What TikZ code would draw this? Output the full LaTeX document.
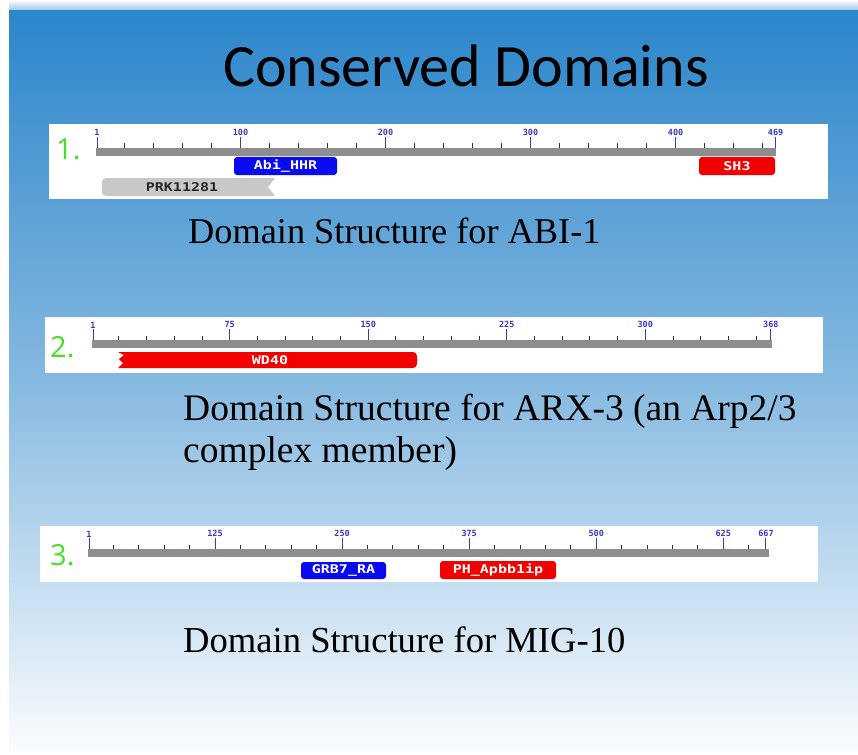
\documentclass[tikz,border=0pt]{standalone}
\usepackage{fontspec}
\setmainfont{Liberation Serif}
\newfontfamily\titlefont{Carlito}
\newfontfamily\numfont{Open Sans}
\newfontfamily\domfont[FakeStretch=1.25]{DejaVu Sans Mono Bold}
\newfontfamily\tickfont{DejaVu Sans Mono Bold}
\definecolor{slidetop}{HTML}{2B86CB}
\definecolor{slidemid}{HTML}{86B9E0}
\definecolor{slidebot}{HTML}{FAFCFE}
\definecolor{rulergray}{HTML}{8E8E8E}
\definecolor{tickblue}{HTML}{3838C8}
\definecolor{minorink}{HTML}{2C2C58}
\definecolor{dblue}{HTML}{0A0AEE}
\definecolor{dred}{HTML}{F20000}
\definecolor{dgray}{HTML}{C8C8C8}
\definecolor{numgreen}{HTML}{45E02A}
\tikzset{
  panel/.style={fill=white, draw=none},
  bar/.style={fill=rulergray, draw=none},
  minortick/.style={draw=minorink, line width=0.9pt},
  majortick/.style={draw=tickblue, line width=1pt},
  ticklabel/.style={font=\tickfont\fontsize{8.5}{9}\selectfont, text=tickblue, inner sep=0.5pt},
  dombox/.style={rounded corners=3pt, draw=none, inner sep=0pt},
  domtext/.style={font=\domfont\fontsize{12}{12}\selectfont, inner sep=0pt},
  caption/.style={text=black, inner sep=0pt, anchor=base west},
  rownum/.style={font=\numfont\fontsize{29}{29}\selectfont, text=numgreen, inner sep=0pt, anchor=base west},
}
\begin{document}
\begin{tikzpicture}[x=1pt, y=-1pt]
  \useasboundingbox (0,0) rectangle (858,754);
  % page and slide background
  \fill[white] (0,0) rectangle (858,754);
  \shade[top color=slidetop, bottom color=slidebot, middle color=slidemid]
    (9,10) rectangle (858,751);
  \shade[top color=white, bottom color=slidetop!45] (9,0) rectangle (858,10);

  % title
  \node[font=\titlefont\fontsize{60}{60}\selectfont, inner sep=0pt] (title) at (466,66) {Conserved Domains};

  % ---------------- ABI-1 ----------------
  \fill[panel] (49,124) rectangle (828,199);
  \node[rownum] (n1) at (56,160) {1.};
  \fill[bar] (96,148) rectangle (776,156);
  \foreach \v in {20,40,...,460}
    \draw[minortick] ({97+(\v-1)*1.45},143.5) -- ++(0,4.5);
  \foreach \v in {1,100,200,300,400,469}
    \draw[majortick] ({97+(\v-1)*1.45},148) -- ++(0,-11) node[ticklabel, above] {\v};
  \node[dombox, fill=dblue, minimum width=103pt, minimum height=18pt] (abi) at (285.5,166) {};
  \node[domtext, text=white] at (abi.center) {Abi\_HHR};
  \node[dombox, fill=dred, minimum width=76pt, minimum height=18pt] (sh3) at (737,166) {};
  \node[domtext, text=white] at (sh3.center) {SH3};
  % truncated hit: rounded start, notched end
  \fill[dgray] (268,187) -- (275,178) [rounded corners=4pt] -- (102,178) -- (102,196)
    [sharp corners] -- (275,196) -- cycle;
  \coordinate (prk) at (182,187.5);
  \node[domtext, text=black!85] at (prk) {PRK11281};
  \node[caption, font=\fontsize{36.3}{38}\selectfont] (cap1) at (188,243) {Domain Structure for ABI-1};

  % ---------------- ARX-3 ----------------
  \fill[panel] (45,317) rectangle (823,373);
  \node[rownum] (n2) at (50,357) {2.};
  \fill[bar] (92,340) rectangle (772,348);
  \foreach \v in {15,30,...,360}
    \draw[minortick] ({93+(\v-1)*1.847},335.5) -- ++(0,4.5);
  \foreach \v in {1,75,150,225,300,368}
    \draw[majortick] ({93+(\v-1)*1.847},340) -- ++(0,-11) node[ticklabel, above] {\v};
  % truncated hit: notched start, rounded end
  \fill[dred] (124,355) -- (118,352) [rounded corners=4pt] -- (417,352) -- (417,368)
    [sharp corners] -- (118,368) -- (123,363) -- (119,359) -- cycle;
  \coordinate (wd40) at (270,360);
  \node[domtext, text=white] at (wd40) {WD40};
  \node[caption, font=\fontsize{37.5}{40}\selectfont] (cap2a) at (183,420) {Domain Structure for ARX-3 (an Arp2/3};
  \node[caption, font=\fontsize{37.5}{40}\selectfont] (cap2b) at (183,462) {complex member)};

  % ---------------- MIG-10 ----------------
  \fill[panel] (40,526) rectangle (818,582);
  \node[rownum] (n3) at (50,565) {3.};
  \fill[bar] (88,549) rectangle (769,557);
  \foreach \v in {25,50,...,650}
    \draw[minortick] ({89+(\v-1)*1.0165},544.5) -- ++(0,4.5);
  \foreach \v in {1,125,250,375,500,625,667}
    \draw[majortick] ({89+(\v-1)*1.0165},549) -- ++(0,-11) node[ticklabel, above] {\v};
  \node[dombox, fill=dblue, minimum width=85pt, minimum height=17pt] (grb) at (343.5,570.5) {};
  \node[domtext, text=white] at (grb.center) {GRB7\_RA};
  \node[dombox, fill=dred, minimum width=116pt, minimum height=18pt] (ph) at (498,570) {};
  \node[domtext, text=white] at (ph.center) {PH\_Apbb1ip};
  \node[caption, font=\fontsize{36.6}{38}\selectfont] (cap3) at (183,652) {Domain Structure for MIG-10};
\end{tikzpicture}
\end{document}
